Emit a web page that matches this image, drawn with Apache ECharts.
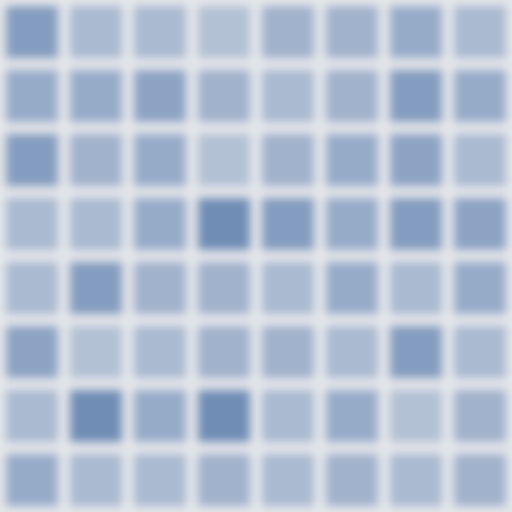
<!DOCTYPE html>
<html>
<head>
<meta charset="utf-8">
<script src="https://cdn.jsdelivr.net/npm/echarts@6/dist/echarts.min.js"></script>
<style>html,body{margin:0;padding:0;background:#e5e6ea;overflow:hidden;}#c{width:512px;height:512px;filter:blur(5px);}</style>
</head>
<body>
<div id="c"></div>
<script>
const xCategories = ['0','1','2','3','4','5','6','7'];
const yCategories = ['0','1','2','3','4','5','6','7'];
const row0 = [7, 3, 3, 2, 4, 4, 5, 3];
const row1 = [5, 5, 6, 4, 3, 4, 7, 5];
const row2 = [7, 4, 5, 2, 4, 5, 6, 3];
const row3 = [3, 3, 5, 9, 7, 5, 7, 6];
const row4 = [3, 7, 4, 4, 3, 5, 3, 5];
const row5 = [6, 2, 3, 4, 4, 3, 7, 3];
const row6 = [3, 9, 5, 9, 3, 5, 2, 4];
const row7 = [5, 3, 3, 4, 3, 4, 3, 4];
const rows = [row0, row1, row2, row3, row4, row5, row6, row7];

const data = [];
rows.forEach(function (r, yi) { r.forEach(function (v, xi) { data.push([xi, yi, v]); }); });

const chart = echarts.init(document.getElementById('c'), null, {renderer: 'canvas'});
chart.setOption({
  backgroundColor: '#e5e6ea',
  animation: false,
  grid: {left: 0, right: 0, top: 0, bottom: 0},
  xAxis: {type: 'category', data: xCategories, show: false},
  yAxis: {type: 'category', data: yCategories, show: false, inverse: true},
  visualMap: {show: false, min: 0, max: 10, dimension: 2, inRange: {color: ['#c6d0de', '#6685b2']}},
  series: [{
    type: 'custom',
    data: data,
    encode: {x: 0, y: 1},
    renderItem: function (params, api) {
      const c = api.coord([api.value(0), api.value(1)]);
      const s = api.size([1, 1]);
      const inset = 6;
      return {
        type: 'rect',
        shape: {x: c[0] - s[0] / 2 + inset, y: c[1] - s[1] / 2 + inset, width: s[0] - inset * 2, height: s[1] - inset * 2},
        style: {fill: api.visual('color')}
      };
    }
  }]
});
</script>
</body>
</html>
